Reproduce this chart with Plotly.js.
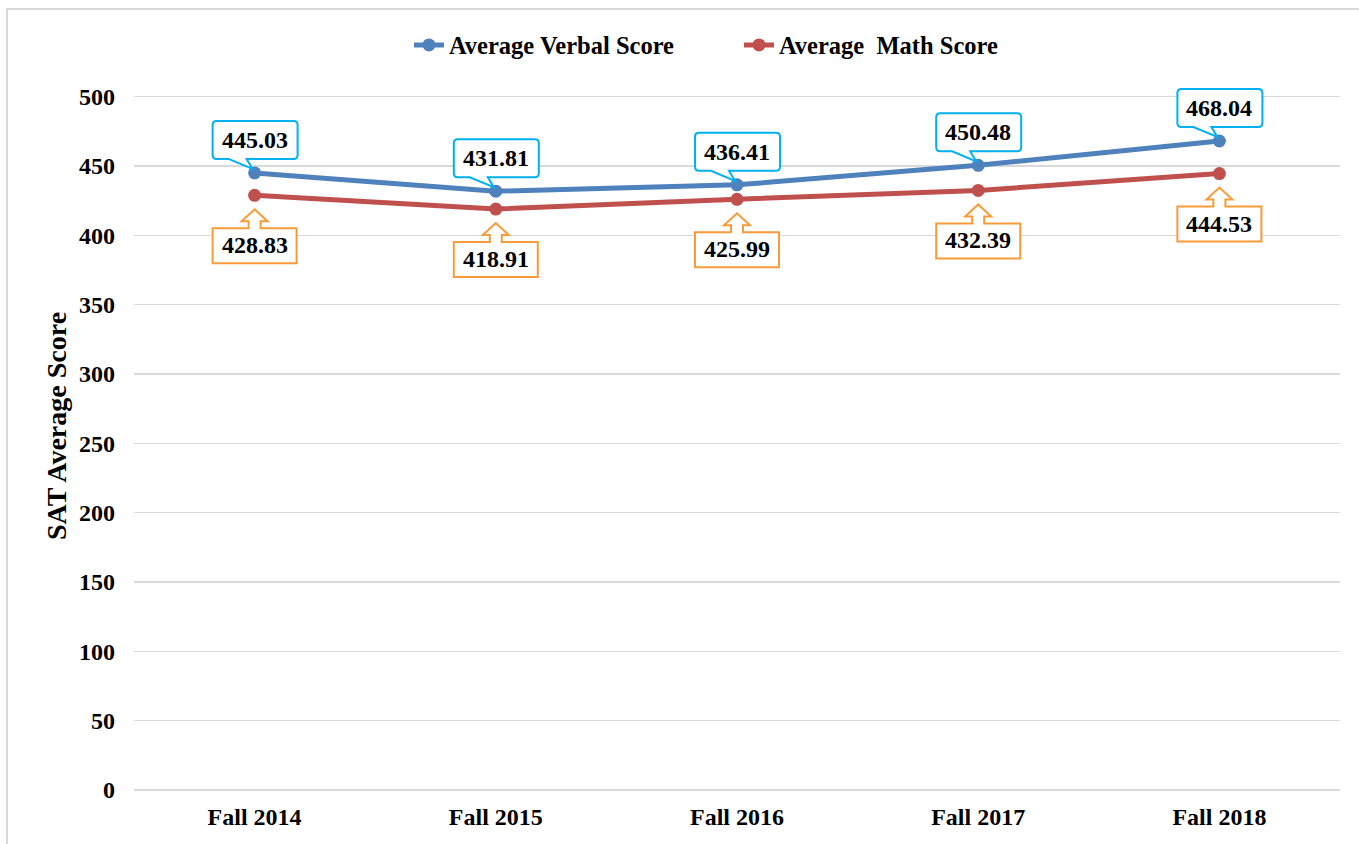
<!DOCTYPE html>
<html>
<head>
<meta charset="utf-8">
<script src="https://cdn.plot.ly/plotly-3.0.1.min.js"></script>
<style>html,body{margin:0;padding:0;background:#fff;}#chart{width:1359px;height:844px;}</style>
</head>
<body>
<div id="chart"></div>
<script>
var categories = ["Fall 2014", "Fall 2015", "Fall 2016", "Fall 2017", "Fall 2018"];
var verbalScores = [445.03, 431.81, 436.41, 450.48, 468.04];
var mathScores = [428.83, 418.91, 425.99, 432.39, 444.53];
var seriesNames = ["Average Verbal Score", "Average\u00A0 Math Score"];
var yTicks = [0, 50, 100, 150, 200, 250, 300, 350, 400, 450, 500];

var FONT = "'Liberation Serif', 'Times New Roman', Times, serif";
var BLUE = "#4F81BD", RED = "#C0504D", CYAN = "#00B0F0", ORANGE = "#F99B38";

var traces = [
  {x: categories, y: verbalScores, name: seriesNames[0], type: "scatter", mode: "lines+markers",
   line: {color: BLUE, width: 5}, marker: {color: BLUE, size: 13}},
  {x: categories, y: mathScores, name: seriesNames[1], type: "scatter", mode: "lines+markers",
   line: {color: RED, width: 5}, marker: {color: RED, size: 13}}
];

var verbalPath = "M -26,14 L -38,14 Q -42,14 -42,18 L -42,48 Q -42,52 -38,52 L 39,52 Q 43,52 43,48 L 43,18 Q 43,14 39,14 L -8,14 L -2,4 Z";
var mathPath = "M -6,-33 L -42,-33 L -42,-68 L 42,-68 L 42,-33 L 6,-33 L 6,-26 L 13,-26 L 0,-14 L -13,-26 L -6,-26 Z";

// plot area: y=0 at 790px, y=500 at 97px; range extended to 525 so callouts are not clipped
var yMax = 525;
var pxPerUnit = (790 - 97) / 500;
var topMargin = Math.round(790 - yMax * pxPerUnit);
var plotH = 790 - topMargin;

var shapes = [{type: "rect", xref: "paper", yref: "paper", x0: (7 - 134) / 1206, x1: 1.2, y0: -0.3, y1: 1 + (topMargin - 9) / plotH,
  line: {color: "#D9D9D9", width: 2}, fillcolor: "rgba(0,0,0,0)", layer: "below"}];
var annotations = [];
categories.forEach(function (c, i) {
  shapes.push({type: "path", xref: "x", yref: "y", xsizemode: "pixel", ysizemode: "pixel",
    xanchor: i, yanchor: verbalScores[i], path: verbalPath, fillcolor: "#FFFFFF", line: {color: CYAN, width: 2}});
  shapes.push({type: "path", xref: "x", yref: "y", xsizemode: "pixel", ysizemode: "pixel",
    xanchor: i, yanchor: mathScores[i], path: mathPath, fillcolor: "#FFFFFF", line: {color: ORANGE, width: 2}});
  annotations.push({x: i, y: verbalScores[i], xref: "x", yref: "y", text: verbalScores[i].toFixed(2),
    showarrow: false, yshift: 33, font: {family: FONT, size: 24, color: "#000", weight: "bold"}});
  annotations.push({x: i, y: mathScores[i], xref: "x", yref: "y", text: mathScores[i].toFixed(2),
    showarrow: false, yshift: -50, font: {family: FONT, size: 24, color: "#000", weight: "bold"}});
});

var layout = {
  width: 1359, height: 844,
  margin: {l: 134, r: 19, t: topMargin, b: 54},
  paper_bgcolor: "#fff", plot_bgcolor: "#fff",
  font: {family: FONT, size: 24, color: "#000", weight: "bold"},
  showlegend: true,
  legend: {orientation: "h", x: (739 - 134) / 1206, xanchor: "center", y: 1 + (topMargin - 45) / plotH, yanchor: "middle",
    font: {family: FONT, size: 24.5, color: "#000", weight: "bold"}, traceorder: "normal",
    entrywidth: 285, entrywidthmode: "pixels"},
  xaxis: {type: "category", range: [-0.5, 4.5], showgrid: false, zeroline: false, showline: false,
    ticks: "", ticklabelstandoff: 10, tickfont: {family: FONT, size: 24, weight: "bold"}},
  yaxis: {range: [0, yMax], tickvals: yTicks, showgrid: true, gridcolor: "#D9D9D9", gridwidth: 1.5,
    zeroline: true, zerolinecolor: "#D9D9D9", zerolinewidth: 1.5, showline: false, ticks: "",
    ticklabelstandoff: 18, tickfont: {family: FONT, size: 24, weight: "bold"},
    title: {text: "SAT Average Score", standoff: 4, font: {family: FONT, size: 28, weight: "bold"}}},
  shapes: shapes,
  annotations: annotations
};

Plotly.newPlot("chart", traces, layout, {displayModeBar: false, staticPlot: true});
</script>
</body>
</html>
